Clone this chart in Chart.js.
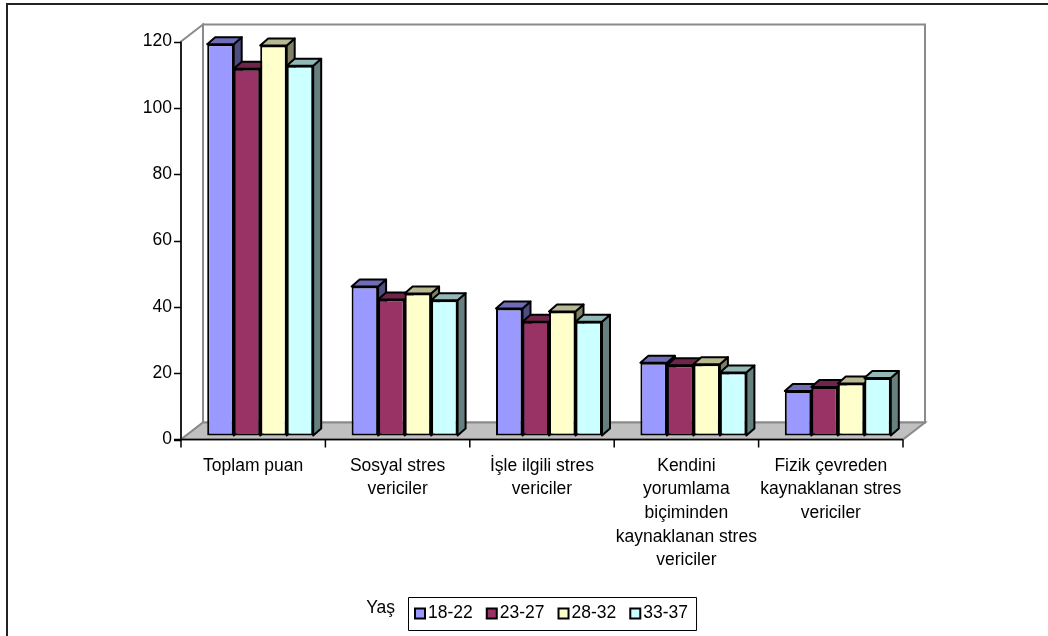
<!DOCTYPE html>
<html>
<head>
<meta charset="utf-8">
<script src="https://cdn.jsdelivr.net/npm/chart.js@4.4.0/dist/chart.umd.min.js"></script>
<style>
  html, body { margin: 0; padding: 0; background: #fff; }
  #wrap { width: 1048px; height: 636px; position: relative; }
</style>
</head>
<body>
<div id="wrap"><canvas id="c" width="1048" height="636"></canvas></div>
<script>
// Stress-source scores by age group
const categories = [
  'Toplam puan',
  ['Sosyal stres', 'vericiler'],
  ['İşle ilgili stres', 'vericiler'],
  ['Kendini', 'yorumlama', 'biçiminden', 'kaynaklanan stres', 'vericiler'],
  ['Fizik çevreden', 'kaynaklanan stres', 'vericiler']
];
const seriesNames = ['18-22', '23-27', '28-32', '33-37'];
const age18_22 = [118.0, 44.9, 38.3, 21.9, 13.4];
const age23_27 = [110.6, 41.0, 34.3, 21.2, 14.6];
const age28_32 = [117.6, 42.8, 37.4, 21.5, 15.7];
const age33_37 = [111.5, 40.8, 34.3, 19.0, 17.3];
const yTicks = [0, 20, 40, 60, 80, 100, 120];
const legendTitle = 'Yaş';

const seriesData = [age18_22, age23_27, age28_32, age33_37];
const frontColors = ['#9999FF', '#993366', '#FFFFCC', '#CCFFFF'];
const FONT = "'Liberation Sans', Arial, sans-serif";

function shade(hex, f) {
  const n = parseInt(hex.slice(1), 16);
  const r = Math.round(((n >> 16) & 255) * f);
  const g = Math.round(((n >> 8) & 255) * f);
  const b = Math.round((n & 255) * f);
  return `rgb(${r},${g},${b})`;
}

// 3D geometry (pixels)
const FRONT_SHIFT = { x: 7, y: 4 };   // bar plane sits behind the front axis plane
const WALL_DEPTH = { x: 22, y: 17 };  // depth of floor / side wall
const BAR_DEPTH = { x: 8, y: 7 };     // depth of each bar

function poly(ctx, pts, fill, stroke, lw) {
  ctx.beginPath();
  ctx.moveTo(pts[0][0], pts[0][1]);
  for (let i = 1; i < pts.length; i++) ctx.lineTo(pts[i][0], pts[i][1]);
  ctx.closePath();
  if (fill) { ctx.fillStyle = fill; ctx.fill(); }
  if (stroke) { ctx.strokeStyle = stroke; ctx.lineWidth = lw; ctx.stroke(); }
}

const frame3d = {
  id: 'frame3d',
  beforeDatasetsDraw(chart) {
    const { ctx, chartArea: a, scales: { x, y } } = chart;
    const L = a.left - FRONT_SHIFT.x;
    const R = a.right - FRONT_SHIFT.x;
    const T = y.getPixelForValue(yTicks[yTicks.length - 1]) + FRONT_SHIFT.y;
    const B = y.getPixelForValue(0) + FRONT_SHIFT.y;
    const dx = WALL_DEPTH.x, dy = WALL_DEPTH.y;

    ctx.save();
    ctx.lineJoin = 'miter';

    // outer chart border
    ctx.strokeStyle = '#222';
    ctx.lineWidth = 2;
    ctx.strokeRect(7, 4, 2000, 2000);

    // back wall
    poly(ctx, [[L + dx, T - dy], [R + dx, T - dy], [R + dx, B - dy], [L + dx, B - dy]], '#fff', '#8a8a8a', 2);
    // side wall
    poly(ctx, [[L, T], [L + dx, T - dy], [L + dx, B - dy], [L, B]], '#fff', '#8a8a8a', 2);
    // floor
    poly(ctx, [[L, B], [L + dx, B - dy], [R + dx, B - dy], [R, B]], '#c0c0c0', '#8a8a8a', 2);

    // value axis with tick marks
    ctx.strokeStyle = '#000';
    ctx.lineWidth = 1.5;
    ctx.beginPath();
    ctx.moveTo(L, T); ctx.lineTo(L, B + 1);
    yTicks.forEach(v => {
      const py = Math.round(y.getPixelForValue(v) + FRONT_SHIFT.y) + 0.5;
      ctx.moveTo(L - 7, py); ctx.lineTo(L, py);
    });
    // category axis with tick marks at category boundaries
    ctx.moveTo(L - 7, B); ctx.lineTo(R, B);
    for (let i = 0; i <= categories.length; i++) {
      const px = x.getPixelForValue(i - 0.5) - FRONT_SHIFT.x;
      ctx.moveTo(px, B); ctx.lineTo(px, B + 8);
    }
    ctx.stroke();

    // bars: left to right so each front face covers the previous bar's side
    chart.data.datasets.forEach((ds, di) => {
      const meta = chart.getDatasetMeta(di);
      const topC = shade(frontColors[di], 0.72);
      const sideC = shade(frontColors[di], 0.5);
      meta.data.forEach(el => {
        const p = el.getProps(['x', 'y', 'base', 'width'], true);
        const l = p.x - p.width / 2, r = p.x + p.width / 2;
        const t = p.y, b = p.base;
        ctx.lineJoin = 'round';
        poly(ctx, [[r, t], [r + BAR_DEPTH.x, t - BAR_DEPTH.y], [r + BAR_DEPTH.x, b - BAR_DEPTH.y], [r, b]], sideC, '#000', 2);
        poly(ctx, [[l, t], [l + BAR_DEPTH.x, t - BAR_DEPTH.y], [r + BAR_DEPTH.x, t - BAR_DEPTH.y], [r, t]], topC, '#000', 2);
        el.draw(ctx, a);
      });
    });

    // legend
    ctx.font = `17.5px ${FONT}`;
    ctx.textBaseline = 'middle';
    ctx.textAlign = 'left';
    const boxL = 408, boxT = 597, boxH = 33;
    const cy = boxT + boxH / 2;
    let cx = boxL + 6;
    seriesNames.forEach((name, i) => {
      ctx.fillStyle = '#000';
      ctx.fillRect(cx, cy - 6, 12, 12);
      ctx.fillStyle = frontColors[i];
      ctx.fillRect(cx + 2, cy - 4, 8, 8);
      ctx.fillStyle = '#000';
      ctx.fillText(name, cx + 14, cy);
      cx += 14 + ctx.measureText(name).width + 13;
    });
    const boxR = cx - 5;
    ctx.strokeStyle = '#000';
    ctx.lineWidth = 1;
    ctx.strokeRect(boxL + 0.5, boxT + 0.5, boxR - boxL, boxH);
    ctx.textAlign = 'right';
    ctx.fillText(legendTitle, boxL - 13, cy - 5);

    ctx.restore();
    return false;
  }
};

new Chart(document.getElementById('c'), {
  type: 'bar',
  data: {
    labels: categories,
    datasets: seriesNames.map((name, i) => ({
      label: name,
      data: seriesData[i],
      backgroundColor: frontColors[i],
      borderColor: '#000',
      borderWidth: 2,
      borderSkipped: false,
      categoryPercentage: 0.734,
      barPercentage: 1
    }))
  },
  options: {
    responsive: false,
    animation: false,
    devicePixelRatio: 1,
    layout: { padding: { left: 0, right: 138, top: 37.5, bottom: 0 } },
    plugins: { legend: { display: false }, tooltip: { enabled: false } },
    scales: {
      x: {
        grid: { display: false, drawTicks: false },
        border: { display: false },
        ticks: {
          color: '#000',
          font: { family: FONT, size: 17.5, lineHeight: 1.35 },
          padding: 18.6,
          labelOffset: -FRONT_SHIFT.x,
          autoSkip: false,
          maxRotation: 0,
          minRotation: 0
        },
        afterFit(s) { s.height = 200.5; }
      },
      y: {
        min: 0,
        max: 120,
        grid: { display: false, drawTicks: false },
        border: { display: false },
        afterBuildTicks(s) { s.ticks = yTicks.map(v => ({ value: v })); },
        ticks: {
          color: '#000',
          font: { family: FONT, size: 17.5 },
          padding: 16,
          labelOffset: FRONT_SHIFT.y
        },
        afterFit(s) { s.width = 188; }
      }
    }
  },
  plugins: [frame3d]
});
</script>
</body>
</html>
